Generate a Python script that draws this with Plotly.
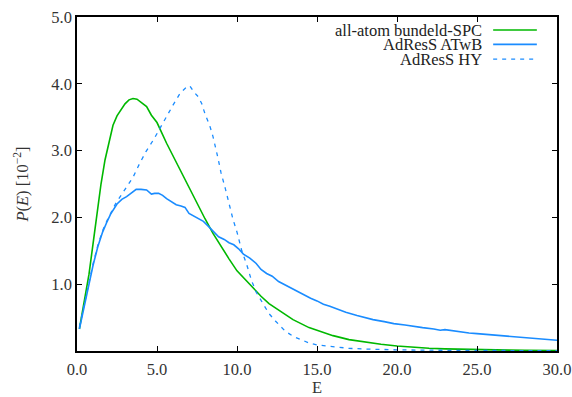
import plotly.graph_objects as go

# all-atom bundeld-SPC
e_aa = [0.15, 0.5, 0.75, 1.0, 1.25, 1.5, 1.75, 2.0, 2.25, 2.5, 2.75, 3.0, 3.25, 3.5, 3.75, 4.0,
        4.35, 4.65, 5.0, 5.6, 6.0, 6.45, 7.0, 7.5, 8.0, 8.5, 9.0, 9.5, 10.0, 10.5, 11.0, 11.5,
        12.0, 12.5, 13.0, 13.5, 14.0, 14.5, 15.0, 15.5, 16.0, 17.0, 18.0, 19.0, 20.0, 21.0,
        22.0, 23.0, 24.0, 25.0, 26.0, 27.0, 28.0, 29.0, 30.0]
p_aa = [0.33, 0.8, 1.15, 1.6, 2.05, 2.5, 2.86, 3.12, 3.38, 3.52, 3.62, 3.7, 3.76, 3.78, 3.77, 3.72,
        3.66, 3.53, 3.42, 3.11, 2.92, 2.71, 2.45, 2.22, 1.98, 1.76, 1.56, 1.38, 1.2, 1.07, 0.94, 0.82,
        0.71, 0.63, 0.55, 0.47, 0.41, 0.35, 0.31, 0.27, 0.23, 0.17, 0.13, 0.10, 0.075, 0.055,
        0.042, 0.032, 0.025, 0.02, 0.016, 0.013, 0.011, 0.009, 0.008]

# AdResS ATwB
e_atwb = [0.15, 0.4, 0.7, 1.0, 1.3, 1.6, 1.85, 2.1, 2.5, 2.8, 3.1, 3.4, 3.7, 4.0, 4.35, 4.65, 4.85,
          5.1, 5.35, 5.6, 5.9, 6.2, 6.5, 6.75, 7.0, 7.3, 7.6, 7.9, 8.2, 8.5, 8.85, 9.2, 9.5, 9.8,
          10.1, 10.4, 10.8, 11.2, 11.5, 11.85, 12.2, 12.6, 13.0, 13.4, 13.75, 14.2, 14.6, 15.0,
          15.4, 15.8, 16.3, 16.8, 17.5, 18.0, 18.5, 19.2, 19.8, 20.5, 21.0, 21.6, 22.3, 22.7,
          23.0, 23.5, 24.0, 24.5, 25.0, 25.5, 26.0, 26.5, 27.0, 27.5, 28.0, 28.5, 29.0, 29.5, 30.0]
p_atwb = [0.33, 0.62, 0.96, 1.28, 1.56, 1.78, 1.92, 2.05, 2.2, 2.27, 2.31, 2.37, 2.42, 2.42, 2.41, 2.35, 2.36,
          2.36, 2.33, 2.28, 2.24, 2.19, 2.17, 2.15, 2.06, 2.02, 1.99, 1.94, 1.87, 1.79, 1.71, 1.67, 1.62, 1.59,
          1.53, 1.45, 1.39, 1.31, 1.22, 1.16, 1.12, 1.04, 0.99, 0.93, 0.89, 0.84, 0.79, 0.75,
          0.70, 0.67, 0.62, 0.58, 0.53, 0.50, 0.47, 0.44, 0.41, 0.39, 0.37, 0.35, 0.33, 0.31,
          0.32, 0.30, 0.28, 0.27, 0.26, 0.25, 0.24, 0.23, 0.22, 0.22, 0.20, 0.19, 0.18, 0.17, 0.16]

# AdResS HY
e_hy = [0.15, 0.4, 0.7, 1.0, 1.3, 1.6, 1.85, 2.1, 2.4, 2.7, 3.0, 3.2, 3.5, 3.9, 4.3, 4.8, 5.2, 5.6,
        6.0, 6.45, 6.8, 7.05, 7.3, 7.6, 7.8, 8.0, 8.3, 8.5, 8.8, 9.0, 9.25, 9.5, 9.75, 10.0, 10.3,
        10.6, 10.9, 11.2, 11.6, 12.0, 12.4, 12.7, 13.0, 13.5, 14.0, 14.5, 15.0, 16.0, 17.0, 18.0,
        19.0, 20.0, 22.0, 24.0, 26.0, 28.0, 30.0]
p_hy = [0.36, 0.65, 0.98, 1.3, 1.58, 1.8, 1.94, 2.07, 2.2, 2.31, 2.42, 2.48, 2.6, 2.8, 2.98, 3.17, 3.33, 3.51,
        3.68, 3.86, 3.94, 3.97, 3.88, 3.8, 3.7, 3.55, 3.37, 3.21, 2.9, 2.67, 2.45, 2.2, 1.97, 1.78, 1.5,
        1.3, 1.06, 0.88, 0.72, 0.56, 0.45, 0.38, 0.3, 0.22, 0.17, 0.12, 0.09, 0.06, 0.04, 0.03,
        0.022, 0.017, 0.012, 0.009, 0.007, 0.005, 0.004]

names = ["all-atom bundeld-SPC", "AdResS ATwB", "AdResS HY"]
GREEN = "#00b800"
BLUE = "#1a8cff"
FONT = "Liberation Serif"
FS = 16.5

x_ticks = [0, 5, 10, 15, 20, 25, 30]
y_ticks = [1, 2, 3, 4, 5]

fig = go.Figure()
fig.add_trace(go.Scatter(x=e_aa, y=p_aa, mode="lines", name=names[0],
                         line=dict(color=GREEN, width=1.6)))
fig.add_trace(go.Scatter(x=e_atwb, y=p_atwb, mode="lines", name=names[1],
                         line=dict(color=BLUE, width=1.6)))
fig.add_trace(go.Scatter(x=e_hy, y=p_hy, mode="lines", name=names[2],
                         line=dict(color=BLUE, width=1.3, dash="4px,5px")))

# custom legend (text right-aligned, sample on the right, as in gnuplot)
leg_y = [0.961, 0.918, 0.874]
styles = [dict(color=GREEN, width=1.6), dict(color=BLUE, width=1.6),
          dict(color=BLUE, width=1.3, dash="4px,5px")]
for nm, yy, st in zip(names, leg_y, styles):
    fig.add_annotation(xref="paper", yref="paper", x=0.848, y=yy, text=nm,
                       showarrow=False, xanchor="right", yanchor="middle", height=14,
                       font=dict(family=FONT, size=FS, color="#222"))
    fig.add_shape(type="line", xref="paper", yref="paper", x0=0.867, x1=0.958,
                  y0=yy, y1=yy, line=st)

fig.update_layout(
    width=572, height=397,
    margin=dict(l=77, r=15, t=17, b=46),
    paper_bgcolor="white", plot_bgcolor="white",
    showlegend=False,
    font=dict(family=FONT, size=FS, color="#333"),
    xaxis=dict(range=[0, 30], tickvals=x_ticks,
               ticktext=[f"{v:.1f}" for v in x_ticks],
               ticks="inside", ticklen=5, tickcolor="black", automargin=False,
               ticklabeloverflow="allow", ticklabelstandoff=2,
               showline=True, linecolor="black", linewidth=1.5, mirror="ticks",
               showgrid=False, zeroline=False,
               title=dict(text="E", standoff=4, font=dict(family=FONT, size=FS))),
    yaxis=dict(range=[0, 5], tickvals=y_ticks,
               ticktext=[f"{v:.1f}" for v in y_ticks],
               ticks="inside", ticklen=5, tickcolor="black", automargin=False,
               ticklabeloverflow="allow",
               showline=True, linecolor="black", linewidth=1.5, mirror="ticks",
               showgrid=False, zeroline=False,
               title=dict(text="<i>P</i>(<i>E</i>) [10<sup>\u22122</sup>]", standoff=19,
                          font=dict(family=FONT, size=FS))),
)

fig.write_html("out.html", config={"displayModeBar": False},
               post_script="document.body.style.margin='0';document.body.style.overflow='hidden';")
